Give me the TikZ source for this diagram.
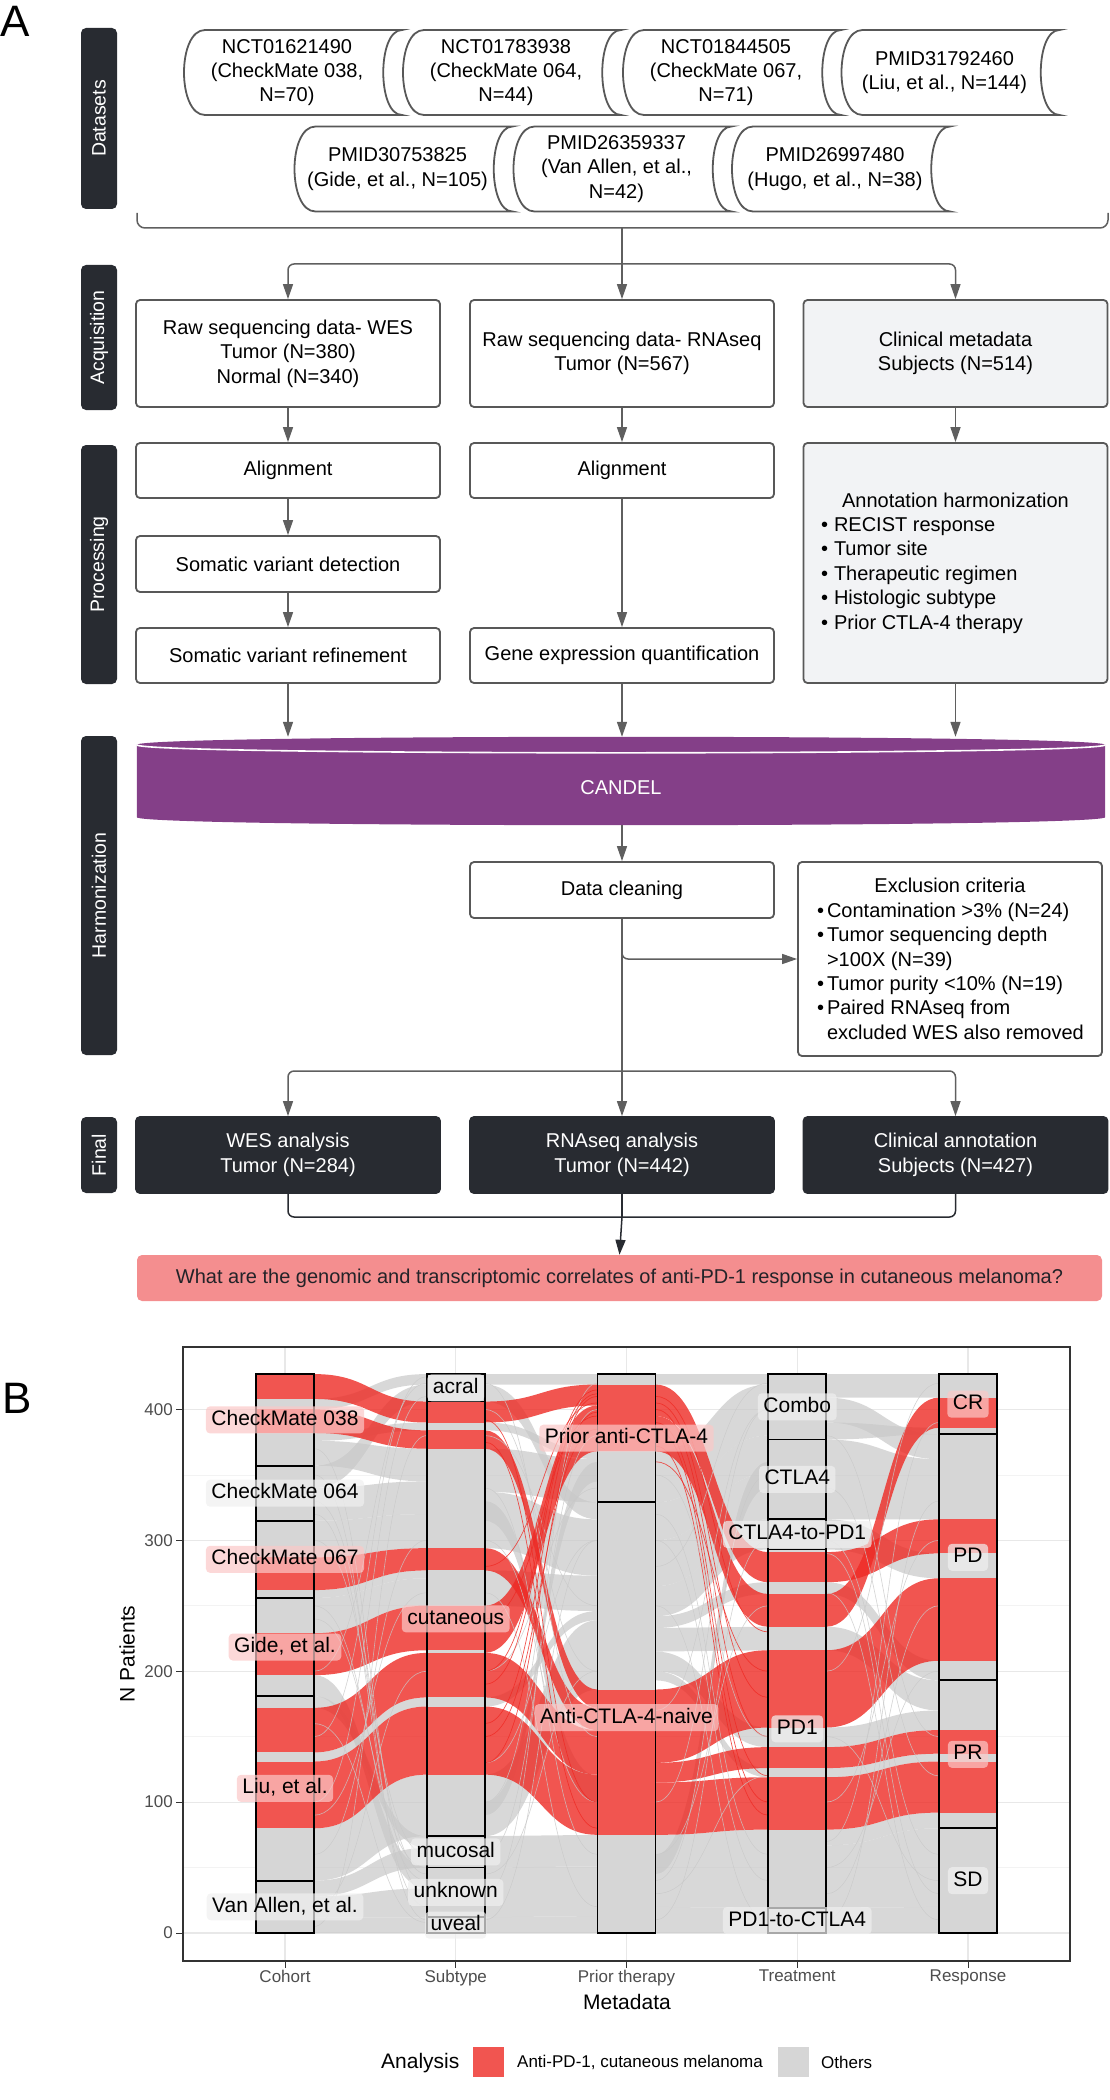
\documentclass[tikz,border=0pt]{standalone}
\usepackage{fontspec}
\setmainfont{Liberation Sans}
\usetikzlibrary{arrows.meta,calc}
\definecolor{boxline}{RGB}{88,88,88}
\definecolor{arrgray}{RGB}{95,95,95}
\definecolor{boxgray}{RGB}{242,243,245}
\definecolor{darkbox}{RGB}{40,43,49}
\definecolor{candelc}{RGB}{132,63,136}
\definecolor{qpink}{RGB}{244,142,143}
\definecolor{qtext}{RGB}{35,35,40}
\definecolor{flowred}{RGB}{238,42,36}
\definecolor{flowgray}{RGB}{200,200,200}
\definecolor{segred}{RGB}{241,85,80}
\definecolor{seggray}{RGB}{214,214,214}
\definecolor{labpink}{RGB}{251,200,199}
\definecolor{labgray}{RGB}{240,240,240}
\definecolor{gridc}{RGB}{232,232,232}
\definecolor{gridm}{RGB}{243,243,243}
\definecolor{axc}{RGB}{51,51,51}
\definecolor{tickt}{RGB}{77,77,77}
\newcommand\tsz{\fontsize{20}{24.4}\selectfont}
\newcommand\ssz{\fontsize{19.5}{22}\selectfont}
\newcommand\psz{\fontsize{21}{24}\selectfont}
\newcommand\ksz{\fontsize{17}{20}\selectfont}
\newcommand\bigsz{\fontsize{44}{50}\selectfont}
\newcommand\Yv[1]{1933-1.309*(#1)}
\newcommand\flowrib[6]{\fill[#6] ({#1+29},{\Yv{#2}}) .. controls ({#1+85.4},{\Yv{#2}}) and ({#1+85.4},{\Yv{#4}}) .. ({#1+141.75},{\Yv{#4}}) -- ({#1+141.75},{\Yv{#5}}) .. controls ({#1+85.4},{\Yv{#5}}) and ({#1+85.4},{\Yv{#3}}) .. ({#1+29},{\Yv{#3}}) -- cycle;}
\newcommand\thinl[4]{\draw[#4] ({#1+29},{\Yv{#2}}) .. controls ({#1+85.4},{\Yv{#2}}) and ({#1+85.4},{\Yv{#3}}) .. ({#1+141.75},{\Yv{#3}});}
\newcommand\bseg[4]{\fill[#4] ({#1-29},{\Yv{#2}}) rectangle ({#1+29},{\Yv{#3}});}
\newcommand\stratum[3]{\draw[stratline] ({#1-29},{\Yv{#2}}) rectangle ({#1+29},{\Yv{#3}});}
\newcommand\dshape[1]{\draw[dsline] ($(#1.center)+(-82,-42.5)$) -- ($(#1.center)+(115,-42.5)$) .. controls ($(#1.center)+(90,-42.5)$) and ($(#1.center)+(90,42.5)$) .. ($(#1.center)+(115,42.5)$) -- ($(#1.center)+(-82,42.5)$) .. controls ($(#1.center)+(-110,42.5)$) and ($(#1.center)+(-110,-42.5)$) .. ($(#1.center)+(-82,-42.5)$) -- cycle;}
\tikzset{
  box/.style={draw=boxline, line width=1.8, rounded corners=4, fill=white, minimum width=304, align=center, font=\tsz, inner sep=0},
  gbox/.style={box, fill=boxgray},
  dbox/.style={box, fill=darkbox, draw=darkbox, text=white},
  side/.style={fill=darkbox, rounded corners=5, text=white, rotate=90, minimum height=36, inner sep=0, font=\ssz},
  dtext/.style={align=center, font=\tsz, inner sep=0},
  dsline/.style={draw=boxline, line width=1.8},
  ln/.style={draw=arrgray, line width=1.5},
  arr/.style={draw=arrgray, line width=1.5, -{Triangle[length=15pt,width=10pt]}},
  darkln/.style={draw=darkbox, line width=1.5},
  darkarr/.style={draw=darkbox, line width=1.5, -{Triangle[length=15pt,width=10pt]}},
  gfl/.style={fill=flowgray, fill opacity=0.7},
  rfl/.style={fill=flowred, fill opacity=0.8},
  gthin/.style={draw=flowgray, line width=0.6, opacity=0.8},
  rthin/.style={draw=flowred, line width=0.7, opacity=0.8},
  stratline/.style={draw=black, line width=1.8},
  plab/.style={rounded corners=4, inner xsep=5.5, inner ysep=4, text height=15, text depth=4, font=\psz, fill opacity=0.7, text opacity=1},
  pk/.style={plab, fill=labpink},
  gy/.style={plab, fill=labgray},
  ticklab/.style={font=\ksz, text=tickt, inner sep=1},
  tickl/.style={draw=axc, line width=1},
  gridmaj/.style={draw=gridc, line width=1.2},
  gridmin/.style={draw=gridm, line width=0.7}
}
\begin{document}
\begin{tikzpicture}[x=1pt,y=-1pt]
\useasboundingbox (0,0) rectangle (1110,2100);
% ---------- Panel A ----------
\node[anchor=base west, inner sep=0, font=\bigsz] (lblA) at (0,37) {A};
\node[side, minimum width=181] (sDat) at (99,118.5) {Datasets};
\node[side, minimum width=145] (sAcq) at (99,337.5) {Acquisition};
\node[side, minimum width=239] (sPro) at (99,564.5) {Processing};
\node[side, minimum width=319] (sHar) at (99,895.5) {Harmonization};
\node[side, minimum width=76] (sFin) at (99,1155) {Final};
% datasets
\node[dtext] (d1) at (287,72.5) {NCT01621490\\(CheckMate 038,\\N=70)};
\node[dtext] (d2) at (506,72.5) {NCT01783938\\(CheckMate 064,\\N=44)};
\node[dtext] (d3) at (726,72.5) {NCT01844505\\(CheckMate 067,\\N=71)};
\node[dtext] (d4) at (944.5,72.5) {PMID31792460\\(Liu, et al., N=144)};
\node[dtext] (d5) at (397.5,169) {PMID30753825\\(Gide, et al., N=105)};
\node[dtext] (d6) at (616.5,169) {PMID26359337\\(Van Allen, et al.,\\N=42)};
\node[dtext] (d7) at (835,169) {PMID26997480\\(Hugo, et al., N=38)};
\dshape{d1}\dshape{d2}\dshape{d3}\dshape{d4}\dshape{d5}\dshape{d6}\dshape{d7}
\draw[ln, rounded corners=8] (137,213) -- (137,228) -- (1108,228) -- (1108,213);
\coordinate (brk) at (622,228);
\coordinate (split1) at (622,264);
% acquisition
\node[box, minimum height=107] (acq1) at (288,353.5) {Raw sequencing data- WES\\Tumor (N=380)\\Normal (N=340)};
\node[box, minimum height=107] (acq2) at (622,353.5) {Raw sequencing data- RNAseq\\Tumor (N=567)};
\node[gbox, minimum height=107] (acq3) at (955.5,353.5) {Clinical metadata\\Subjects (N=514)};
\draw[ln] (brk) -- (split1);
\draw[arr] (split1) -- (acq2.north);
\draw[arr, rounded corners=6] (split1) -| (acq1.north);
\draw[arr, rounded corners=6] (split1) -| (acq3.north);
% processing
\node[box, minimum height=55] (pr1a) at (288,470.5) {Alignment};
\node[box, minimum height=55] (pr2a) at (622,470.5) {Alignment};
\node[box, minimum height=56] (pr1b) at (288,564) {Somatic variant detection};
\node[box, minimum height=55] (pr1c) at (288,655.5) {Somatic variant refinement};
\node[box, minimum height=55] (pr2c) at (622,655.5) {Gene expression quantification};
\node[gbox, minimum height=240] (pr3) at (955.5,563) {\parbox{269pt}{\centering Annotation harmonization\par\raggedright
\mbox{\textbullet\hspace{6pt}RECIST response}\\
\mbox{\textbullet\hspace{6pt}Tumor site}\\
\mbox{\textbullet\hspace{6pt}Therapeutic regimen}\\
\mbox{\textbullet\hspace{6pt}Histologic subtype}\\
\mbox{\textbullet\hspace{6pt}Prior CTLA-4 therapy}}};
\draw[arr] (acq1.south) -- (pr1a.north);
\draw[arr] (acq2.south) -- (pr2a.north);
\draw[arr] (acq3.south) -- (pr3.north);
\draw[arr] (pr1a.south) -- (pr1b.north);
\draw[arr] (pr1b.south) -- (pr1c.north);
\draw[arr] (pr2a.south) -- (pr2c.north);
% CANDEL
\node[minimum width=968, minimum height=88, inner sep=0, text=white, font=\tsz] (candel) at (621,781) {};
\fill[candelc] ($(candel.north west)+(0,8)$) -- ($(candel.south west)+(0,-8)$) .. controls ($(candel.south west)+(0,2.67)$) and ($(candel.south east)+(0,2.67)$) .. ($(candel.south east)+(0,-8)$) -- ($(candel.north east)+(0,8)$) .. controls ($(candel.north east)+(0,-2.67)$) and ($(candel.north west)+(0,-2.67)$) .. ($(candel.north west)+(0,8)$) -- cycle;
\draw[white, line width=1.6] ($(candel.north west)+(0,8)$) .. controls ($(candel.north west)+(0,18.67)$) and ($(candel.north east)+(0,18.67)$) .. ($(candel.north east)+(0,8)$);
\node[text=white, font=\tsz, inner sep=0] (candeltxt) at (621,788) {CANDEL};
\draw[arr] (pr1c.south) -- (pr1c.south |- candel.north);
\draw[arr] (pr2c.south) -- (pr2c.south |- candel.north);
\draw[arr] (pr3.south) -- (pr3.south |- candel.north);
% harmonization
\node[box, minimum height=56] (clean) at (622,890) {Data cleaning};
\node[box, minimum height=194] (excl) at (950,959) {\parbox{266pt}{\centering Exclusion criteria\par\raggedright
\mbox{\textbullet\hspace{3pt}Contamination >3\% (N=24)}\\
\mbox{\textbullet\hspace{3pt}Tumor sequencing depth}\\
\mbox{\hspace*{10pt}>100X (N=39)}\\
\mbox{\textbullet\hspace{3pt}Tumor purity <10\% (N=19)}\\
\mbox{\textbullet\hspace{3pt}Paired RNAseq from}\\
\mbox{\hspace*{10pt}excluded WES also removed}}};
\draw[arr] (candel.south -| clean.north) -- (clean.north);
\coordinate (fsplit) at (622,1071);
\draw[ln] (clean.south) -- (fsplit);
\draw[arr, rounded corners=6] (clean.south) |- (excl.west);
% final
\node[dbox, minimum height=76] (fin1) at (288,1155) {WES analysis\\Tumor (N=284)};
\node[dbox, minimum height=76] (fin2) at (622,1155) {RNAseq analysis\\Tumor (N=442)};
\node[dbox, minimum height=76] (fin3) at (955.5,1155) {Clinical annotation\\Subjects (N=427)};
\draw[arr] (fsplit) -- (fin2.north);
\draw[arr, rounded corners=6] (fsplit) -| (fin1.north);
\draw[arr, rounded corners=6] (fsplit) -| (fin3.north);
\node[fill=qpink, rounded corners=5, minimum width=965, minimum height=46, inner sep=0, font=\tsz, text=qtext] (q) at (619.5,1278) {What are the genomic and transcriptomic correlates of anti-PD-1 response in cutaneous melanoma?};
\coordinate (qsplit) at (622,1217);
\draw[darkln, rounded corners=6] (fin1.south) |- (qsplit) -| (fin3.south);
\draw[darkln] (fin2.south) -- (qsplit);
\draw[darkarr] (qsplit) -- (q.north);
% ---------- Panel B ----------
\node[anchor=base west, inner sep=0, font=\bigsz] (lblB) at (2,1413) {B};
\foreach \v in {50,150,250,350} {\draw[gridmin] (183,{\Yv{\v}}) -- (1070,{\Yv{\v}});}
\foreach \v in {0,100,200,300,400} {\draw[gridmaj] (183,{\Yv{\v}}) -- (1070,{\Yv{\v}});}
\foreach \x in {285,455.75,626.5,797.25,968} {\draw[gridmaj] (\x,1347) -- (\x,1961);}
% gap 1 gray
\flowrib{285}{408}{400}{427}{419}{gfl}
\flowrib{285}{382}{376}{390}{384}{gfl}
\flowrib{285}{376}{357}{370}{345}{gfl}
\flowrib{285}{357}{340}{419}{406}{gfl}
\flowrib{285}{340}{315}{345}{320}{gfl}
\flowrib{285}{315}{287}{320}{294}{gfl}
\flowrib{285}{262}{256}{277}{271}{gfl}
\flowrib{285}{256}{229}{271}{250}{gfl}
\flowrib{285}{197}{181}{50}{34}{gfl}
\flowrib{285}{181}{172}{74}{65}{gfl}
\flowrib{285}{138}{131}{180}{173}{gfl}
\flowrib{285}{80}{40}{121}{74}{gfl}
\flowrib{285}{40}{28}{65}{50}{gfl}
\flowrib{285}{28}{12}{34}{12}{gfl}
\flowrib{285}{12}{0}{12}{0}{gfl}
% gap 2 gray
\flowrib{455.75}{427}{419}{427}{419}{gfl}
\flowrib{455.75}{419}{406}{329}{316}{gfl}
\flowrib{455.75}{390}{384}{368}{362}{gfl}
\flowrib{455.75}{370}{337}{362}{329}{gfl}
\flowrib{455.75}{337}{294}{316}{273}{gfl}
\flowrib{455.75}{277}{250}{273}{246}{gfl}
\flowrib{455.75}{180}{173}{246}{239}{gfl}
\flowrib{455.75}{121}{74}{239}{186}{gfl}
\flowrib{455.75}{74}{50}{75}{51}{gfl}
\flowrib{455.75}{50}{12}{51}{13}{gfl}
\flowrib{455.75}{12}{0}{13}{0}{gfl}
\flowrib{455.75}{330}{315}{120}{100}{gfl}
\flowrib{455.75}{100}{90}{360}{345}{gfl}
% gap 3 gray
\flowrib{626.5}{427}{419}{427}{419}{gfl}
\flowrib{626.5}{368}{329}{419}{380}{gfl}
\flowrib{626.5}{329}{300}{380}{351}{gfl}
\flowrib{626.5}{300}{265}{351}{316}{gfl}
\flowrib{626.5}{265}{242}{316}{293}{gfl}
\flowrib{626.5}{242}{233}{268}{259}{gfl}
\flowrib{626.5}{233}{215}{234}{216}{gfl}
\flowrib{626.5}{215}{200}{157}{142}{gfl}
\flowrib{626.5}{200}{193}{126}{119}{gfl}
\flowrib{626.5}{75}{20}{79}{19}{gfl}
\flowrib{626.5}{20}{0}{19}{0}{gfl}
\flowrib{626.5}{60}{45}{360}{340}{gfl}
% gap 4 gray
\flowrib{797.25}{427}{409}{427}{409}{gfl}
\flowrib{797.25}{409}{390}{381}{362}{gfl}
\flowrib{797.25}{390}{377}{386}{381}{gfl}
\flowrib{797.25}{377}{316}{362}{316}{gfl}
\flowrib{797.25}{316}{293}{290}{271}{gfl}
\flowrib{797.25}{268}{259}{208}{193}{gfl}
\flowrib{797.25}{234}{216}{193}{170}{gfl}
\flowrib{797.25}{157}{142}{170}{155}{gfl}
\flowrib{797.25}{126}{119}{137}{131}{gfl}
\flowrib{797.25}{79}{67}{92}{80}{gfl}
\flowrib{797.25}{67}{19}{80}{20}{gfl}
\flowrib{797.25}{19}{0}{20}{0}{gfl}
% red flows
\flowrib{285}{427}{408}{406}{390}{rfl}
\flowrib{285}{400}{382}{384}{370}{rfl}
\flowrib{285}{287}{262}{294}{277}{rfl}
\flowrib{285}{229}{197}{250}{216}{rfl}
\flowrib{285}{172}{138}{214}{180}{rfl}
\flowrib{285}{131}{80}{173}{121}{rfl}
\flowrib{455.75}{406}{390}{419}{403}{rfl}
\flowrib{455.75}{250}{214}{403}{368}{rfl}
\flowrib{455.75}{384}{370}{186}{172}{rfl}
\flowrib{455.75}{294}{277}{172}{155}{rfl}
\flowrib{455.75}{214}{180}{155}{121}{rfl}
\flowrib{455.75}{173}{121}{121}{75}{rfl}
\flowrib{626.5}{419}{395}{291}{268}{rfl}
\flowrib{626.5}{395}{368}{259}{234}{rfl}
\flowrib{626.5}{186}{130}{216}{157}{rfl}
\flowrib{626.5}{130}{115}{142}{126}{rfl}
\flowrib{626.5}{115}{75}{119}{79}{rfl}
\flowrib{797.25}{291}{268}{316}{290}{rfl}
\flowrib{797.25}{259}{234}{409}{386}{rfl}
\flowrib{797.25}{216}{157}{271}{208}{rfl}
\flowrib{797.25}{142}{126}{155}{137}{rfl}
\flowrib{797.25}{119}{79}{131}{92}{rfl}
% thin lines
\foreach \a/\b in {350/10,300/60,200/420,150/425,60/300,20/200,330/45,250/40,100/410,370/30,320/20,240/50,160/8,90/260,5/380} {\thinl{285}{\a}{\b}{gthin}}
\foreach \a/\b in {400/200,380/250,100/400,60/380,300/100,10/300,30/420,200/340,340/60,260/20,420/150,45/200,130/300} {\thinl{455.75}{\a}{\b}{gthin}}
\foreach \a/\b in {200/415,160/410,130/398,280/405,392/100,375/80,240/395,190/412,150/385} {\thinl{455.75}{\a}{\b}{rthin}}
\foreach \a/\b in {410/230,400/150,385/100,372/90,360/200,405/180,390/120} {\thinl{626.5}{\a}{\b}{rthin}}
\foreach \a/\b in {350/150,320/60,250/10,100/400,40/350,10/300,60/250,280/420,170/400,30/120,300/40} {\thinl{626.5}{\a}{\b}{gthin}}
\foreach \a/\b in {380/150,300/60,260/10,200/420,100/300,30/250,50/200,150/40,10/330,340/120,290/30,70/390} {\thinl{797.25}{\a}{\b}{gthin}}
% bar segments
\foreach \x in {285,455.75,626.5,797.25,968} {\bseg{\x}{427}{0}{seggray}}
\foreach \a/\b in {427/408,400/382,287/262,229/197,172/138,131/80} {\bseg{285}{\a}{\b}{segred}}
\foreach \a/\b in {406/390,384/370,294/277,250/216,214/180,173/121} {\bseg{455.75}{\a}{\b}{segred}}
\foreach \a/\b in {419/368,186/75} {\bseg{626.5}{\a}{\b}{segred}}
\foreach \a/\b in {291/268,259/234,216/157,142/126,119/79} {\bseg{797.25}{\a}{\b}{segred}}
\foreach \a/\b in {409/386,316/290,271/208,155/137,131/92} {\bseg{968}{\a}{\b}{segred}}
% strata
\foreach \a/\b in {427/357,357/315,315/256,256/181,181/40,40/0} {\stratum{285}{\a}{\b}}
\foreach \a/\b in {427/406,406/74,74/50,50/12,12/0} {\stratum{455.75}{\a}{\b}}
\foreach \a/\b in {427/329,329/0} {\stratum{626.5}{\a}{\b}}
\foreach \a/\b in {427/377,377/316,316/293,293/19,19/0} {\stratum{797.25}{\a}{\b}}
\foreach \a/\b in {427/381,381/193,193/80,80/0} {\stratum{968}{\a}{\b}}
% stratum labels
\node[pk] (lc1) at (285,{\Yv{392}}) {CheckMate 038};
\node[gy] (lc2) at (285,{\Yv{336}}) {CheckMate 064};
\node[pk] (lc3) at (285,{\Yv{285.5}}) {CheckMate 067};
\node[pk] (lc4) at (285,{\Yv{218.5}}) {Gide, et al.};
\node[pk] (lc5) at (285,{\Yv{110.5}}) {Liu, et al.};
\node[gy] (lc6) at (285,{\Yv{20}}) {Van Allen, et al.};
\node[gy] (ls1) at (455.75,{\Yv{416.5}}) {acral};
\node[pk] (ls2) at (455.75,{\Yv{240}}) {cutaneous};
\node[gy] (ls3) at (455.75,{\Yv{62}}) {mucosal};
\node[gy] (ls4) at (455.75,{\Yv{31}}) {unknown};
\node[gy] (ls5) at (455.75,{\Yv{6}}) {uveal};
\node[pk] (lp1) at (626.5,{\Yv{378}}) {Prior anti-CTLA-4};
\node[pk] (lp2) at (626.5,{\Yv{164.5}}) {Anti-CTLA-4-naive};
\node[gy] (lt1) at (797.25,{\Yv{402}}) {Combo};
\node[gy] (lt2) at (797.25,{\Yv{346.5}}) {CTLA4};
\node[gy] (lt3) at (797.25,{\Yv{304.5}}) {CTLA4-to-PD1};
\node[gy] (lt4) at (797.25,{\Yv{156}}) {PD1};
\node[gy] (lt5) at (797.25,{\Yv{9.5}}) {PD1-to-CTLA4};
\node[pk] (lr1) at (968,{\Yv{404}}) {CR};
\node[gy] (lr2) at (968,{\Yv{287}}) {PD};
\node[pk] (lr3) at (968,{\Yv{136.5}}) {PR};
\node[gy] (lr4) at (968,{\Yv{40}}) {SD};
% panel border and axes
\draw[draw=axc, line width=1.2] (183,1347) rectangle (1070,1961);
\foreach \v in {0,100,200,300,400} {\draw[tickl] (176,{\Yv{\v}}) -- (183,{\Yv{\v}}); \node[ticklab, anchor=east] (yt\v) at (174,{\Yv{\v}}) {\v};}
\foreach \x/\t [count=\i] in {285/Cohort,455.75/Subtype,626.5/Prior therapy,797.25/Treatment,968/Response} {\draw[tickl] (\x,1961) -- (\x,1968); \node[ticklab, anchor=north] (xt\i) at (\x,1969) {\t};}
\node[font=\psz, inner sep=0] (xtitle) at (627,2002) {Metadata};
\node[font=\psz, inner sep=0, rotate=90] (ytitle) at (127,1654) {N Patients};
% legend
\node[font=\psz, inner sep=0, anchor=west] (legt) at (381,2063) {Analysis};
\node[fill=segred, minimum width=31, minimum height=30, inner sep=0] (k1) at (488.5,2062) {};
\node[font=\ksz, inner sep=0, anchor=west] (k1t) at (517,2062) {Anti-PD-1, cutaneous melanoma};
\node[fill=seggray, minimum width=31, minimum height=30, inner sep=0] (k2) at (793,2062) {};
\node[font=\ksz, inner sep=0, anchor=west] (k2t) at (821,2062) {Others};
\end{tikzpicture}
\end{document}
